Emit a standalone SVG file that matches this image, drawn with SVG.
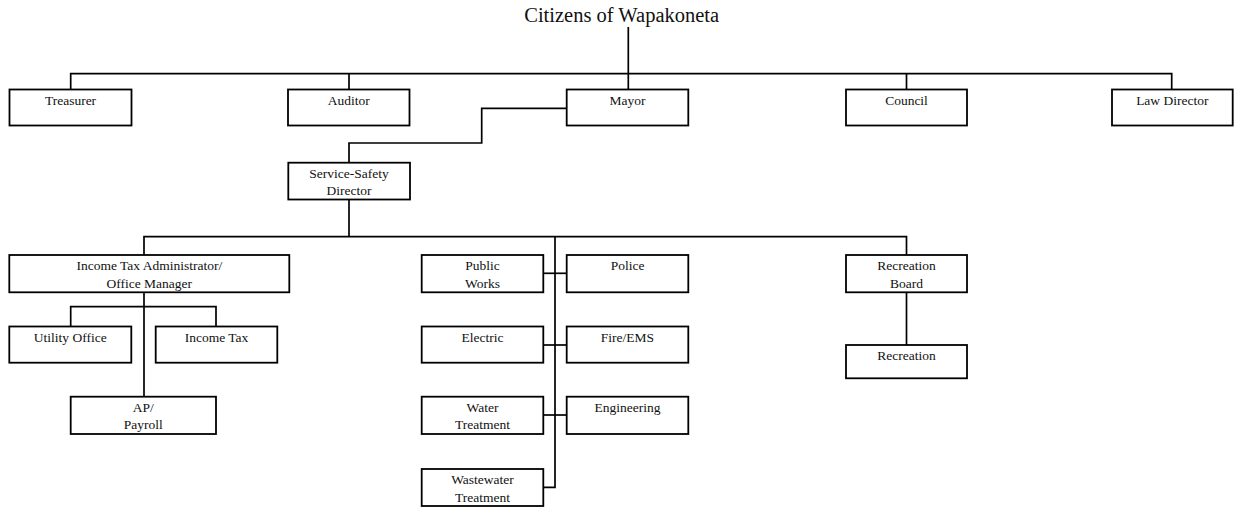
<svg xmlns="http://www.w3.org/2000/svg" width="1236" height="508" viewBox="0 0 1236 508">
<style>
.box{fill:#fff;stroke:#000;stroke-width:1.8}
.ln{fill:none;stroke:#000;stroke-width:1.7}
text{font-family:"Liberation Serif","Times New Roman",serif;font-size:13.5px;fill:#111;text-anchor:middle}
.title{font-size:20.5px}
</style>
<rect width="1236" height="508" fill="#fff"/>
<g id="connectors">
<path class="ln" d="M628.3,27 V89.5"/>
<path class="ln" d="M70.7,89.5 V73.7 H1171.7 V89.5"/>
<path class="ln" d="M349,73.7 V89.5"/>
<path class="ln" d="M906.5,73.7 V89.5"/>
<path class="ln" d="M566.7,108.3 H481.7 V143 H349 V162.7"/>
<path class="ln" d="M349,199.5 V236.7"/>
<path class="ln" d="M144,255 V236.7 H906.5 V255"/>
<path class="ln" d="M555,236.7 V487.3 H543.3"/>
<path class="ln" d="M543.3,273.3 H566.7"/>
<path class="ln" d="M543.3,345 H566.7"/>
<path class="ln" d="M543.3,415 H566.7"/>
<path class="ln" d="M906.5,292.3 V345"/>
<path class="ln" d="M144,292.3 V396.7"/>
<path class="ln" d="M70.7,326.5 V306.7 H216 V326.5"/>
</g>
<g id="citizens"><text class="title" x="621.7" y="22">Citizens of Wapakoneta</text></g>
<g id="treasurer"><rect class="box" x="9.5" y="89.5" width="122" height="36"/><text x="70.5" y="105">Treasurer</text></g>
<g id="auditor"><rect class="box" x="288" y="89.5" width="121.5" height="36"/><text x="348.8" y="105">Auditor</text></g>
<g id="mayor"><rect class="box" x="566.7" y="89.5" width="121.6" height="36"/><text x="627.5" y="105">Mayor</text></g>
<g id="council"><rect class="box" x="846" y="89.5" width="121" height="36"/><text x="906.5" y="105">Council</text></g>
<g id="law-director"><rect class="box" x="1112" y="89.5" width="120.7" height="36"/><text x="1172.3" y="105">Law Director</text></g>
<g id="service-safety"><rect class="box" x="288.3" y="162.7" width="121.7" height="36.8"/><text x="349" y="177.5">Service-Safety</text><text x="349" y="195">Director</text></g>
<g id="income-tax-admin"><rect class="box" x="9.3" y="255" width="280" height="37.3"/><text x="149.3" y="270">Income Tax Administrator/</text><text x="149.3" y="287.7">Office Manager</text></g>
<g id="utility-office"><rect class="box" x="9.3" y="326.5" width="122" height="36.2"/><text x="70.3" y="341.5">Utility Office</text></g>
<g id="income-tax"><rect class="box" x="155.7" y="326.5" width="121.6" height="36.2"/><text x="216.5" y="341.5">Income Tax</text></g>
<g id="ap-payroll"><rect class="box" x="70.7" y="396.7" width="145.3" height="37.3"/><text x="143.3" y="411.7">AP/</text><text x="143.3" y="429.4">Payroll</text></g>
<g id="public-works"><rect class="box" x="421.7" y="255" width="121.6" height="37.3"/><text x="482.5" y="270">Public</text><text x="482.5" y="287.7">Works</text></g>
<g id="police"><rect class="box" x="566.7" y="255" width="121.6" height="37.3"/><text x="627.5" y="270">Police</text></g>
<g id="electric"><rect class="box" x="421.7" y="326.5" width="121.6" height="36.2"/><text x="482.5" y="341.5">Electric</text></g>
<g id="fire-ems"><rect class="box" x="566.7" y="326.5" width="121.6" height="36.2"/><text x="627.5" y="341.5">Fire/EMS</text></g>
<g id="water-treatment"><rect class="box" x="421.7" y="396.7" width="121.6" height="37.3"/><text x="482.5" y="411.7">Water</text><text x="482.5" y="429.4">Treatment</text></g>
<g id="engineering"><rect class="box" x="566.7" y="396.7" width="121.6" height="37.3"/><text x="627.5" y="411.7">Engineering</text></g>
<g id="wastewater-treatment"><rect class="box" x="421.7" y="469" width="121.6" height="37"/><text x="482.5" y="484">Wastewater</text><text x="482.5" y="501.7">Treatment</text></g>
<g id="recreation-board"><rect class="box" x="846" y="255" width="121" height="37.3"/><text x="906.5" y="270">Recreation</text><text x="906.5" y="287.7">Board</text></g>
<g id="recreation"><rect class="box" x="846" y="345" width="121" height="33.3"/><text x="906.5" y="360">Recreation</text></g>
</svg>
